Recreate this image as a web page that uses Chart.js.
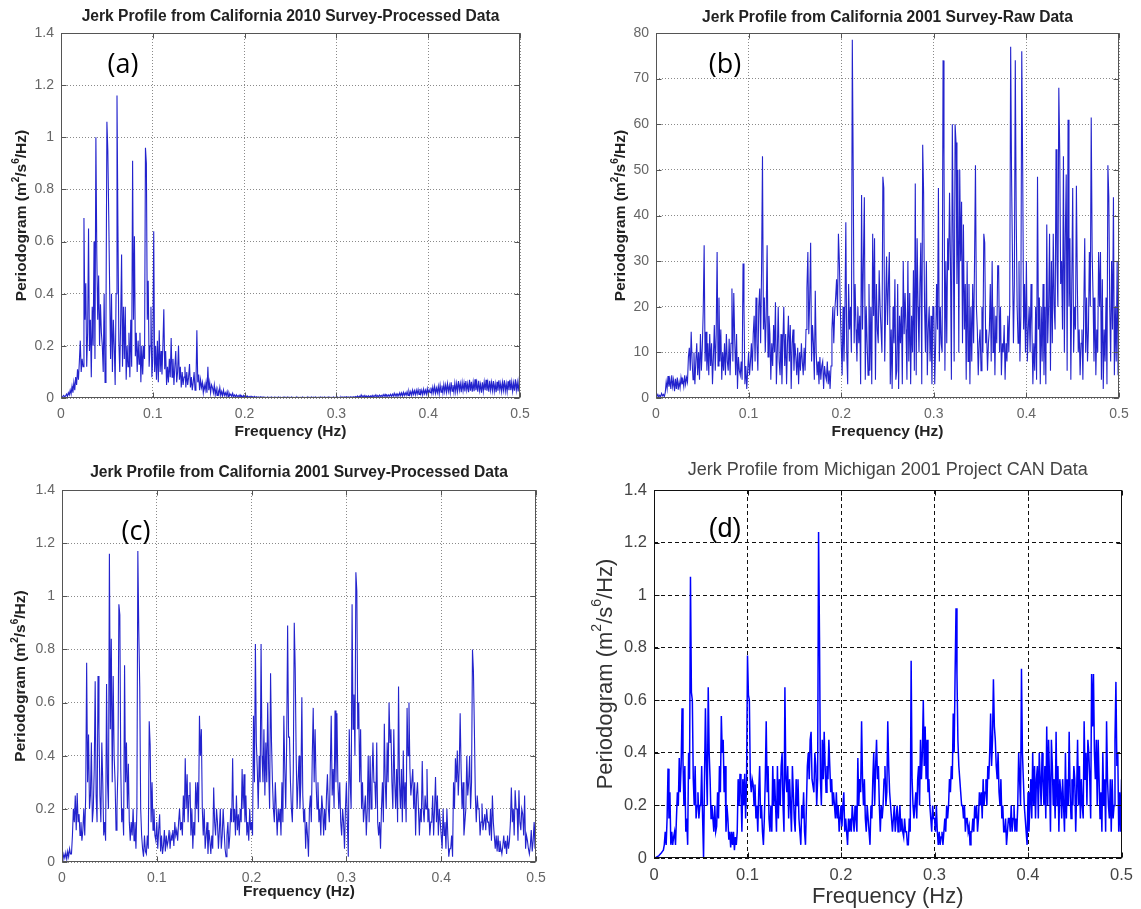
<!DOCTYPE html>
<html>
<head>
<meta charset="utf-8">
<title>Jerk Profile Periodograms</title>
<script src="https://cdn.jsdelivr.net/npm/chart.js@4.4.1/dist/chart.umd.min.js"></script>
<style>
  html, body { margin: 0; padding: 0; background: #fff; }
  body { width: 1141px; height: 909px; position: relative; overflow: hidden; }
  canvas { position: absolute; }
</style>
</head>
<body>
<canvas id="chartA" width="545" height="450" style="left:0;top:0"></canvas>
<canvas id="chartB" width="551" height="450" style="left:590px;top:0"></canvas>
<canvas id="chartC" width="560" height="454" style="left:0;top:455px"></canvas>
<canvas id="chartD" width="551" height="454" style="left:590px;top:455px"></canvas>
<script>
// Periodogram bins are spaced 0.001 Hz apart, from 0 to 0.5 Hz (one row = 0.01 Hz)
const FREQ_STEP = 0.001;

// California 2010 survey, processed (m^2/s^6/Hz)
const caProcessed2010 = [
  0, 0.003, 0.006, 0.01, 0.004, 0.008, 0.015, 0.006, 0.02, 0.012,
  0.03, 0.015, 0.045, 0.02, 0.06, 0.03, 0.08, 0.05, 0.11, 0.07,
  0.14, 0.22, 0.1, 0.15, 0.12, 0.69, 0.3, 0.44, 0.12, 0.25,
  0.65, 0.18, 0.3, 0.08, 0.35, 0.2, 0.6, 0.15, 1.0, 0.55,
  0.3, 0.47, 0.2, 0.36, 0.25, 0.2, 0.1, 0.4, 0.06, 0.3,
  1.06, 0.95, 0.7, 0.42, 0.15, 0.4, 0.1, 0.3, 0.2, 0.05,
  0.4, 1.16, 0.66, 0.22, 0.1, 0.3, 0.55, 0.12, 0.35, 0.15,
  0.35, 0.07, 0.2, 0.12, 0.25, 0.08, 0.3, 0.12, 0.91, 0.3,
  0.62, 0.16, 0.25, 0.1, 0.22, 0.13, 0.25, 0.06, 0.2, 0.09,
  0.2, 0.15, 0.96, 0.9, 0.3, 0.45, 0.12, 0.2, 0.35, 0.08,
  0.15, 0.64, 0.1, 0.2, 0.07, 0.22, 0.06, 0.26, 0.1, 0.18,
  0.09, 0.2, 0.34, 0.11, 0.18, 0.05, 0.12, 0.06, 0.15, 0.08,
  0.23, 0.08, 0.15, 0.05, 0.12, 0.18, 0.06, 0.1, 0.2, 0.07,
  0.12, 0.04, 0.1, 0.05, 0.08, 0.12, 0.04, 0.1, 0.05, 0.08,
  0.13, 0.04, 0.08, 0.03, 0.06, 0.1, 0.03, 0.05, 0.26, 0.06,
  0.09, 0.03, 0.07, 0.04, 0.06, 0.02, 0.05, 0.03, 0.06, 0.02,
  0.12, 0.03, 0.06, 0.02, 0.05, 0.04, 0.02, 0.05, 0.012, 0.035,
  0.01, 0.03, 0.015, 0.04, 0.01, 0.025, 0.008, 0.03, 0.01, 0.02,
  0.008, 0.025, 0.006, 0.02, 0.01, 0.015, 0.005, 0.018, 0.006, 0.012,
  0.004, 0.012, 0.005, 0.01, 0.004, 0.012, 0.003, 0.008, 0.004, 0.01,
  0.003, 0.012, 0.002, 0.008, 0.003, 0.006, 0.002, 0.007, 0.002, 0.005,
  0.002, 0.006, 0.001, 0.005, 0.002, 0.004, 0.001, 0.005, 0.002, 0.004,
  0.001, 0.004, 0.002, 0.003, 0.001, 0.004, 0.002, 0.003, 0.001, 0.004,
  0.002, 0.003, 0.001, 0.004, 0.001, 0.003, 0.002, 0.004, 0.001, 0.003,
  0.001, 0.003, 0.002, 0.004, 0.001, 0.003, 0.001, 0.004, 0.002, 0.003,
  0.001, 0.004, 0.002, 0.003, 0.001, 0.003, 0.002, 0.004, 0.001, 0.003,
  0.002, 0.003, 0.001, 0.004, 0.002, 0.003, 0.001, 0.003, 0.002, 0.004,
  0.001, 0.003, 0.002, 0.004, 0.001, 0.003, 0.001, 0.004, 0.002, 0.003,
  0.001, 0.003, 0.002, 0.004, 0.001, 0.003, 0.001, 0.004, 0.002, 0.003,
  0.001, 0.004, 0.002, 0.003, 0.001, 0.003, 0.002, 0.004, 0.001, 0.003,
  0.002, 0.004, 0.001, 0.003, 0.002, 0.005, 0.001, 0.004, 0.002, 0.004,
  0.002, 0.005, 0.002, 0.004, 0.001, 0.005, 0.002, 0.004, 0.002, 0.005,
  0.002, 0.006, 0.003, 0.008, 0.002, 0.007, 0.003, 0.012, 0.004, 0.009,
  0.004, 0.01, 0.003, 0.008, 0.004, 0.009, 0.003, 0.008, 0.004, 0.01,
  0.004, 0.01, 0.005, 0.012, 0.004, 0.01, 0.005, 0.011, 0.006, 0.01,
  0.005, 0.013, 0.006, 0.014, 0.005, 0.012, 0.006, 0.012, 0.007, 0.014,
  0.006, 0.015, 0.007, 0.018, 0.008, 0.016, 0.007, 0.016, 0.008, 0.02,
  0.009, 0.02, 0.008, 0.022, 0.01, 0.02, 0.011, 0.024, 0.01, 0.026,
  0.012, 0.025, 0.01, 0.03, 0.014, 0.028, 0.012, 0.03, 0.015, 0.032,
  0.014, 0.035, 0.015, 0.03, 0.012, 0.034, 0.016, 0.03, 0.015, 0.036,
  0.015, 0.032, 0.02, 0.04, 0.018, 0.042, 0.02, 0.045, 0.018, 0.038,
  0.02, 0.045, 0.016, 0.05, 0.022, 0.048, 0.02, 0.052, 0.024, 0.05,
  0.022, 0.055, 0.025, 0.048, 0.02, 0.06, 0.026, 0.05, 0.022, 0.058,
  0.024, 0.056, 0.025, 0.065, 0.03, 0.055, 0.022, 0.06, 0.028, 0.058,
  0.025, 0.065, 0.03, 0.055, 0.022, 0.07, 0.028, 0.062, 0.024, 0.06,
  0.026, 0.072, 0.03, 0.058, 0.024, 0.066, 0.028, 0.052, 0.02, 0.06,
  0.026, 0.062, 0.03, 0.07, 0.028, 0.058, 0.024, 0.066, 0.03, 0.06,
  0.028, 0.065, 0.026, 0.055, 0.022, 0.062, 0.028, 0.068, 0.03, 0.056,
  0.025, 0.06, 0.03, 0.068, 0.026, 0.055, 0.024, 0.064, 0.03, 0.07,
  0.03, 0.062, 0.026, 0.058, 0.028, 0.072, 0.03, 0.06, 0.025, 0.066,
  0.04
];

// California 2001 survey, raw
const caRaw2001 = [
  0, 0.4, 0.8, 0.2, 0.6, 0.3, 1, 0.5, 0.8, 0.3,
  1.2, 3.5, 2, 4.8, 2.5, 4, 2, 5, 2.5, 4,
  1.5, 4.2, 2, 4.5, 1.8, 3.5, 2.2, 4.5, 3, 4,
  2.5, 5, 3, 4.5, 3.5, 9, 11, 6, 14.5, 8,
  4, 10, 3, 8, 12, 5, 10, 4, 14, 6,
  11, 19, 33.5, 8, 14.5, 6, 12, 5, 14, 7,
  12, 3, 9, 16, 6, 14, 32, 7, 22, 8,
  15, 4, 10, 6, 12, 5, 14, 8, 6, 13,
  5, 12, 24, 8, 23, 13, 5, 14, 2, 9,
  6, 5, 8, 4, 29.5, 20, 3, 7, 2, 6,
  10, 5, 8, 12, 6, 14, 18, 8, 22, 12,
  6, 20, 24, 12, 28, 53, 15, 22, 10, 18,
  33.5, 9, 18, 14, 4, 12, 7, 16, 10, 21,
  3, 10, 20, 8, 5, 14, 3, 12, 20, 7,
  14, 3, 12, 18, 8, 16, 2, 12, 15, 6,
  12, 9, 5, 11, 3, 10, 6, 12, 8, 5,
  11, 6, 15, 24, 32, 14, 22, 34, 8, 16,
  12, 4, 23.5, 10, 5, 8, 3, 9, 4, 7,
  8, 2, 7, 5, 4, 8, 3, 6, 2, 7,
  15, 20, 12, 19, 22, 26, 18, 36, 30, 20,
  12, 5, 20, 8, 18, 38.5, 10, 3, 25, 15,
  20, 10, 78.5, 49, 12, 25, 15, 8, 20, 12,
  18, 3, 44.5, 15, 30, 44, 4, 20, 12, 5,
  25, 6, 20, 3, 36, 18, 35, 4, 25, 15,
  12, 28, 20, 15, 10, 48.5, 46, 8, 20, 31,
  16, 25, 32, 3, 15, 2, 20, 12, 26, 4,
  6, 25, 2, 18, 12, 20, 3, 30, 14, 23,
  15, 4, 30, 8, 23, 3, 18, 10, 28, 6,
  47, 5, 35, 20, 10, 25, 34, 3, 55.5, 45,
  20, 10, 30, 5, 15, 20, 8, 18, 3, 20,
  20, 3, 12, 25, 15, 46, 8, 20, 12, 10,
  74, 53, 6, 30, 12, 35, 28, 45, 30, 4,
  60, 35, 8, 60, 56, 25, 50, 10, 50, 30,
  43, 12, 38, 15, 25, 4, 30, 8, 25, 3,
  20, 8, 25, 12, 30, 51, 20, 15, 5, 12,
  15, 6, 20, 10, 36, 34, 12, 15, 6, 12,
  15, 25, 8, 30, 10, 20, 5, 18, 12, 29,
  29, 10, 20, 5, 12, 10, 16, 4, 12, 8,
  18, 10, 20, 77, 48, 30, 12, 25, 74, 40,
  20, 12, 30, 8, 18, 76, 50, 15, 25, 10,
  30, 8, 15, 20, 10, 25, 15, 3, 12, 6,
  20, 4, 48.5, 15, 22, 3, 20, 8, 25, 5,
  20, 3, 38, 12, 20, 36, 6, 30, 12, 36,
  20, 15, 54.5, 30, 20, 68, 54, 25, 30, 15,
  53, 10, 35, 49, 6, 61, 20, 35, 4, 25,
  46, 10, 20, 15, 46.5, 25, 10, 15, 5, 12,
  15, 4, 20, 35, 10, 22, 8, 15, 32, 20,
  61.5, 32, 22, 8, 22, 5, 15, 10, 32, 20,
  32, 4, 26, 2, 15, 8, 22, 3, 51, 44,
  20, 8, 30, 15, 44, 5, 20, 8, 30, 5,
  20
];

// California 2001 survey, processed
const caProcessed2001 = [
  0, 0.01, 0.03, 0.015, 0.035, 0.01, 0.04, 0.02, 0.05, 0.03,
  0.03, 0.1, 0.2, 0.15, 0.25, 0.12, 0.26, 0.15, 0.18, 0.1,
  0.15, 0.08, 0.12, 0.2, 0.1, 0.25, 0.75, 0.3, 0.48, 0.2,
  0.25, 0.45, 0.15, 0.2, 0.35, 0.68, 0.25, 0.15, 0.7, 0.5,
  0.25, 0.15, 0.45, 0.3, 0.1, 0.15, 0.08, 0.67, 0.3, 0.2,
  1.16, 0.5, 0.84, 0.3, 0.7, 0.4, 0.3, 0.12, 0.2, 0.35,
  0.97, 0.93, 0.35, 0.15, 0.2, 0.1, 0.74, 0.3, 0.45, 0.2,
  0.37, 0.15, 0.08, 0.15, 0.1, 0.2, 0.08, 0.15, 0.05, 0.2,
  1.17, 0.87, 0.66, 0.2, 0.1, 0.05, 0.02, 0.1, 0.04, 0.03,
  0.1, 0.05, 0.53, 0.44, 0.15, 0.3, 0.12, 0.2, 0.1, 0.08,
  0.15, 0.05, 0.12, 0.18, 0.04, 0.1, 0.03, 0.06, 0.12, 0.04,
  0.1, 0.06, 0.08, 0.12, 0.05, 0.1, 0.08, 0.12, 0.06, 0.15,
  0.1, 0.12, 0.08, 0.15, 0.2, 0.12, 0.15, 0.1, 0.25, 0.15,
  0.39, 0.2, 0.33, 0.15, 0.25, 0.3, 0.1, 0.2, 0.05, 0.15,
  0.1, 0.3, 0.2, 0.3, 0.15, 0.55, 0.4, 0.5, 0.2, 0.1,
  0.2, 0.05, 0.1, 0.15, 0.03, 0.12, 0.08, 0.03, 0.1, 0.05,
  0.28, 0.15, 0.1, 0.2, 0.15, 0.05, 0.12, 0.2, 0.05, 0.1,
  0.2, 0.12, 0.05, 0.02, 0.1, 0.15, 0.05, 0.1, 0.2, 0.15,
  0.39, 0.15, 0.2, 0.1, 0.25, 0.12, 0.18, 0.1, 0.2, 0.15,
  0.35, 0.2, 0.33, 0.15, 0.25, 0.1, 0.15, 0.08, 0.2, 0.12,
  0.15, 0.1, 0.55, 0.3, 0.82, 0.45, 0.35, 0.2, 0.4, 0.3,
  0.82, 0.4, 0.3, 0.5, 0.25, 0.45, 0.3, 0.6, 0.35, 0.2,
  0.71, 0.45, 0.3, 0.2, 0.15, 0.3, 0.2, 0.1, 0.2, 0.15,
  0.2, 0.1, 0.3, 0.15, 0.55, 0.35, 0.2, 0.45, 0.89, 0.47,
  0.47, 0.3, 0.2, 0.15, 0.35, 0.9, 0.73, 0.4, 0.2, 0.3,
  0.4, 0.2, 0.3, 0.62, 0.25, 0.15, 0.2, 0.05, 0.15, 0.1,
  0.02, 0.2, 0.25, 0.15, 0.4, 0.58, 0.3, 0.5, 0.3, 0.2,
  0.3, 0.15, 0.2, 0.1, 0.25, 0.2, 0.1, 0.2, 0.12, 0.25,
  0.33, 0.2, 0.15, 0.35, 0.55, 0.25, 0.35, 0.2, 0.57, 0.3,
  0.56, 0.3, 0.2, 0.3, 0.15, 0.1, 0.2, 0.15, 0.05, 0.2,
  0.3, 0.15, 0.02, 0.5, 0.3, 0.2, 0.97, 0.5, 0.63, 0.4,
  1.09, 1.02, 0.5, 0.6, 0.3, 0.5, 0.2, 0.3, 0.15, 0.2,
  0.25, 0.1, 0.2, 0.4, 0.15, 0.4, 0.2, 0.3, 0.45, 0.3,
  0.3, 0.2, 0.45, 0.15, 0.1, 0.15, 0.05, 0.2, 0.3, 0.15,
  0.52, 0.3, 0.2, 0.45, 0.3, 0.6, 0.45, 0.5, 0.3, 0.2,
  0.5, 0.3, 0.2, 0.35, 0.15, 0.66, 0.3, 0.2, 0.35, 0.15,
  0.42, 0.2, 0.3, 0.15, 0.58, 0.4, 0.6, 0.35, 0.25, 0.3,
  0.35, 0.2, 0.3, 0.1, 0.25, 0.3, 0.2, 0.1, 0.2, 0.15,
  0.38, 0.2, 0.15, 0.25, 0.2, 0.35, 0.15, 0.2, 0.1, 0.15,
  0.15, 0.25, 0.1, 0.2, 0.32, 0.15, 0.25, 0.1, 0.2, 0.15,
  0.1, 0.05, 0.2, 0.1, 0.15, 0.05, 0.2, 0.1, 0.02, 0.05,
  0.05, 0.1, 0.02, 0.3, 0.2, 0.39, 0.3, 0.42, 0.25, 0.35,
  0.56, 0.35, 0.2, 0.3, 0.1, 0.15, 0.2, 0.4, 0.25, 0.3,
  0.4, 0.2, 0.3, 0.8, 0.72, 0.5, 0.25, 0.15, 0.25, 0.2,
  0.2, 0.1, 0.15, 0.22, 0.12, 0.15, 0.18, 0.12, 0.2, 0.15,
  0.15, 0.1, 0.2, 0.08, 0.25, 0.15, 0.1, 0.05, 0.1, 0.04,
  0.1, 0.04, 0.08, 0.05, 0.03, 0.06, 0.1, 0.05, 0.08, 0.03,
  0.1, 0.05, 0.08, 0.15, 0.28, 0.15, 0.2, 0.1, 0.27, 0.2,
  0.2, 0.08, 0.27, 0.15, 0.12, 0.2, 0.18, 0.1, 0.25, 0.05,
  0.1, 0.08, 0.05, 0.03, 0.06, 0.12, 0.04, 0.08, 0.15, 0.05,
  0.26
];

// Michigan 2001 Project CAN
const miCan2001 = [
  0, 0.001, 0.002, 0.004, 0.006, 0.008, 0.012, 0.016, 0.02, 0.025,
  0.03, 0.05, 0.1, 0.05, 0.15, 0.34, 0.15, 0.25, 0.05, 0.1,
  0.05, 0.08, 0.1, 0.05, 0.15, 0.25, 0.2, 0.38, 0.25, 0.35,
  0.57, 0.37, 0.2, 0.35, 0.1, 0.15, 0.05, 0.4, 0.3, 1.07,
  0.63, 0.6, 0.3, 0.2, 0.35, 0.15, 0.2, 0.25, 0.15, 0.2,
  0.2, 0.35, 0.15, 0.0, 0.3, 0.57, 0.35, 0.2, 0.65, 0.4,
  0.3, 0.15, 0.2, 0.15, 0.1, 0.2, 0.1, 0.12, 0.25, 0.15,
  0.35, 0.25, 0.54, 0.4, 0.45, 0.25, 0.35, 0.1, 0.2, 0.15,
  0.07, 0.1, 0.04, 0.1, 0.05, 0.1, 0.03, 0.08, 0.05, 0.1,
  0.3, 0.2, 0.32, 0.25, 0.1, 0.3, 0.2, 0.32, 0.15, 0.3,
  0.77, 0.62, 0.6, 0.3, 0.25, 0.3, 0.28, 0.2, 0.28, 0.15,
  0.2, 0.1, 0.25, 0.35, 0.15, 0.2, 0.1, 0.05, 0.15, 0.3,
  0.52, 0.25, 0.35, 0.15, 0.1, 0.2, 0.1, 0.35, 0.2, 0.3,
  0.2, 0.1, 0.35, 0.15, 0.3, 0.2, 0.35, 0.4, 0.2, 0.1,
  0.65, 0.3, 0.25, 0.35, 0.15, 0.3, 0.2, 0.1, 0.35, 0.25,
  0.15, 0.1, 0.3, 0.2, 0.3, 0.15, 0.1, 0.05, 0.2, 0.15,
  0.25, 0.1, 0.05, 0.2, 0.35, 0.4, 0.3, 0.45, 0.48, 0.3,
  0.3, 0.25, 0.4, 0.35, 0.2, 0.3, 1.24, 0.84, 0.3, 0.2,
  0.45, 0.3, 0.48, 0.35, 0.25, 0.35, 0.3, 0.45, 0.35, 0.25,
  0.3, 0.2, 0.25, 0.2, 0.15, 0.25, 0.15, 0.2, 0.1, 0.15,
  0.2, 0.12, 0.2, 0.25, 0.1, 0.15, 0.1, 0.05, 0.15, 0.1,
  0.15, 0.1, 0.2, 0.15, 0.1, 0.2, 0.15, 0.1, 0.38, 0.2,
  0.3, 0.25, 0.52, 0.3, 0.2, 0.3, 0.15, 0.1, 0.2, 0.15,
  0.1, 0.05, 0.2, 0.15, 0.3, 0.4, 0.2, 0.35, 0.45, 0.3,
  0.35, 0.2, 0.1, 0.2, 0.15, 0.2, 0.3, 0.35, 0.2, 0.25,
  0.52, 0.35, 0.25, 0.2, 0.15, 0.1, 0.15, 0.2, 0.1, 0.15,
  0.2, 0.1, 0.15, 0.2, 0.1, 0.15, 0.1, 0.08, 0.15, 0.1,
  0.1, 0.05, 0.05, 0.15, 0.1, 0.75, 0.3, 0.2, 0.15, 0.2,
  0.25, 0.15, 0.3, 0.35, 0.2, 0.45, 0.3, 0.4, 0.6, 0.35,
  0.5, 0.3, 0.45, 0.25, 0.3, 0.2, 0.15, 0.1, 0.2, 0.15,
  0.15, 0.1, 0.2, 0.1, 0.05, 0.1, 0.05, 0.08, 0.1, 0.05,
  0.1, 0.15, 0.1, 0.2, 0.15, 0.2, 0.3, 0.25, 0.35, 0.3,
  0.55, 0.4, 0.7, 0.95, 0.7, 0.45, 0.35, 0.3, 0.25, 0.2,
  0.2, 0.15, 0.2, 0.1, 0.15, 0.15, 0.1, 0.12, 0.05, 0.1,
  0.1, 0.15, 0.1, 0.2, 0.15, 0.2, 0.1, 0.15, 0.25, 0.2,
  0.25, 0.15, 0.3, 0.2, 0.25, 0.3, 0.2, 0.35, 0.3, 0.4,
  0.55, 0.35, 0.45, 0.68, 0.5, 0.45, 0.35, 0.3, 0.4, 0.25,
  0.2, 0.3, 0.15, 0.2, 0.1, 0.1, 0.15, 0.05, 0.1, 0.15,
  0.15, 0.1, 0.2, 0.1, 0.15, 0.2, 0.1, 0.15, 0.1, 0.2,
  0.4, 0.3, 0.2, 0.72, 0.4, 0.3, 0.2, 0.15, 0.1, 0.05,
  0.25, 0.1, 0.2, 0.3, 0.15, 0.4, 0.2, 0.35, 0.15, 0.3,
  0.35, 0.15, 0.4, 0.3, 0.2, 0.4, 0.3, 0.2, 0.35, 0.15,
  0.5, 0.2, 0.45, 0.3, 0.1, 0.45, 0.35, 0.2, 0.3, 0.15,
  0.48, 0.2, 0.35, 0.1, 0.3, 0.25, 0.15, 0.3, 0.2, 0.1,
  0.4, 0.15, 0.3, 0.2, 0.48, 0.25, 0.15, 0.3, 0.2, 0.35,
  0.3, 0.1, 0.25, 0.45, 0.2, 0.35, 0.15, 0.3, 0.2, 0.15,
  0.52, 0.3, 0.4, 0.2, 0.45, 0.4, 0.3, 0.15, 0.7, 0.5,
  0.7, 0.4, 0.3, 0.45, 0.2, 0.45, 0.3, 0.15, 0.25, 0.1,
  0.4, 0.2, 0.3, 0.1, 0.52, 0.3, 0.2, 0.15, 0.3, 0.1,
  0.3, 0.15, 0.2, 0.45, 0.67, 0.35, 0.4, 0.1, 0.25, 0.1,
  0.3
];

const SANS = '"Liberation Sans", Arial, sans-serif';

// Classic MATLAB look for a-c, the heavier CAN plot for d
const matlabStyle = {
  line: 'rgb(35,35,205)', lineWidth: 1.1,
  grid: '#8a8a8a', gridDash: [1, 2], frame: '#555',
  tickFont: 14, tickColor: '#666',
  titleFont: 'bold 15.6px ' + SANS, titleColor: '#222',
  axisFont: 15.5, axisWeight: 'bold', axisColor: '#222',
  tagFont: '27px "Open Sans", sans-serif'
};
const canStyle = {
  line: '#0000ff', lineWidth: 1.5,
  grid: '#111', gridDash: [4, 3], frame: '#111',
  tickFont: 16.5, tickColor: '#444',
  titleFont: '18px ' + SANS, titleColor: '#444',
  axisFont: 22, axisWeight: 'normal', axisColor: '#333',
  tagFont: '27px ' + SANS
};

const panels = [
  { id: 'chartA', values: caProcessed2010, yMax: 1.4, yStep: 0.2, style: matlabStyle,
    title: 'Jerk Profile from California 2010 Survey-Processed Data', tag: '(a)',
    pad: { top: 33, right: 25 }, yAxisWidth: 61, xAxisHeight: 52,
    titleGap: 16, xTitleGap: 34, yTitleX: 22, tagPos: [123, 65] },
  { id: 'chartB', values: caRaw2001, yMax: 80, yStep: 10, style: matlabStyle,
    title: 'Jerk Profile from California 2001 Survey-Raw Data', tag: '(b)',
    pad: { top: 33, right: 22 }, yAxisWidth: 66, xAxisHeight: 52,
    titleGap: 15, xTitleGap: 34, yTitleX: 31, tagPos: [135, 65] },
  { id: 'chartC', values: caProcessed2001, yMax: 1.4, yStep: 0.2, style: matlabStyle,
    title: 'Jerk Profile from California 2001 Survey-Processed Data', tag: '(c)',
    pad: { top: 35, right: 24 }, yAxisWidth: 62, xAxisHeight: 47,
    titleGap: 17, xTitleGap: 30, yTitleX: 21, tagPos: [136, 77] },
  { id: 'chartD', values: miCan2001, yMax: 1.4, yStep: 0.2, style: canStyle,
    title: 'Jerk Profile from Michigan 2001 Project CAN Data', tag: '(d)',
    pad: { top: 35, right: 15 }, yAxisWidth: 64, xAxisHeight: 51,
    titleGap: 20, xTitleGap: 39, yTitleX: 16, tagPos: [135, 75] }
];

function toPoints(values) {
  return values.map((v, i) => ({ x: +(i * FREQ_STEP).toFixed(3), y: v }));
}

// MATLAB-style tick text: 1 instead of 1.0
function plainNumber(value) {
  return String(+value.toFixed(2));
}

// "Periodogram (m^2/s^6/Hz)" with raised exponents, drawn centred on (0,0)
function drawRichText(ctx, parts, size, weight) {
  const big = weight + ' ' + size + 'px ' + SANS;
  const small = weight + ' ' + Math.round(size * 0.62) + 'px ' + SANS;
  let total = 0;
  for (const p of parts) {
    ctx.font = p.sup ? small : big;
    total += ctx.measureText(p.t).width;
  }
  let x = -total / 2;
  ctx.textAlign = 'left';
  ctx.textBaseline = 'middle';
  for (const p of parts) {
    ctx.font = p.sup ? small : big;
    ctx.fillText(p.t, x, p.sup ? -size * 0.38 : 0);
    x += ctx.measureText(p.t).width;
  }
}

const Y_TITLE = [
  { t: 'Periodogram (m' }, { t: '2', sup: true }, { t: '/s' },
  { t: '6', sup: true }, { t: '/Hz)' }
];

function decorations(p) {
  const s = p.style;
  return {
    id: 'decorations',
    afterDraw(chart) {
      const { ctx, chartArea: a, scales } = chart;
      const x0 = Math.round(a.left) + 0.5, x1 = Math.round(a.right) - 0.5;
      const y0 = Math.round(a.top) + 0.5, y1 = Math.round(a.bottom) - 0.5;
      ctx.save();
      ctx.strokeStyle = s.frame;
      ctx.lineWidth = 1;
      ctx.setLineDash([]);
      ctx.strokeRect(x0, y0, x1 - x0, y1 - y0);

      // inward tick marks on all four sides
      ctx.beginPath();
      for (const t of scales.x.ticks) {
        const px = Math.round(scales.x.getPixelForValue(t.value)) + 0.5;
        ctx.moveTo(px, y1); ctx.lineTo(px, y1 - 5);
        ctx.moveTo(px, y0); ctx.lineTo(px, y0 + 5);
      }
      for (const t of scales.y.ticks) {
        const py = Math.round(scales.y.getPixelForValue(t.value)) + 0.5;
        ctx.moveTo(x0, py); ctx.lineTo(x0 + 5, py);
        ctx.moveTo(x1, py); ctx.lineTo(x1 - 5, py);
      }
      ctx.stroke();

      const cx = (a.left + a.right) / 2;
      ctx.fillStyle = s.titleColor;
      ctx.font = s.titleFont;
      ctx.textAlign = 'center';
      ctx.textBaseline = 'middle';
      ctx.fillText(p.title, cx, a.top - p.titleGap);

      ctx.fillStyle = s.axisColor;
      ctx.font = s.axisWeight + ' ' + s.axisFont + 'px ' + SANS;
      ctx.fillText('Frequency (Hz)', cx, a.bottom + p.xTitleGap);

      ctx.save();
      ctx.translate(p.yTitleX, (a.top + a.bottom) / 2);
      ctx.rotate(-Math.PI / 2);
      drawRichText(ctx, Y_TITLE, s.axisFont, s.axisWeight);
      ctx.restore();

      ctx.fillStyle = '#000';
      ctx.font = s.tagFont;
      ctx.textAlign = 'center';
      ctx.textBaseline = 'middle';
      ctx.fillText(p.tag, p.tagPos[0], p.tagPos[1]);
      ctx.restore();
    }
  };
}

for (const p of panels) {
  const s = p.style;
  new Chart(document.getElementById(p.id), {
    type: 'line',
    data: {
      datasets: [{
        data: toPoints(p.values),
        borderColor: s.line,
        borderWidth: s.lineWidth,
        pointRadius: 0,
        tension: 0,
        fill: false
      }]
    },
    options: {
      responsive: false,
      animation: false,
      events: [],
      layout: { padding: { top: p.pad.top, right: p.pad.right, left: 0, bottom: 0 } },
      plugins: { legend: { display: false }, tooltip: { enabled: false } },
      scales: {
        x: {
          type: 'linear', min: 0, max: 0.5,
          ticks: { stepSize: 0.1, padding: 8, color: s.tickColor, autoSkip: false,
                   maxRotation: 0, callback: plainNumber,
                   font: { family: SANS, size: s.tickFont } },
          grid: { color: s.grid, lineWidth: 1, drawTicks: false },
          border: { display: false, dash: s.gridDash },
          afterFit(scale) { scale.height = p.xAxisHeight; }
        },
        y: {
          type: 'linear', min: 0, max: p.yMax,
          ticks: { stepSize: p.yStep, padding: 7, color: s.tickColor,
                   callback: plainNumber,
                   font: { family: SANS, size: s.tickFont } },
          grid: { color: s.grid, lineWidth: 1, drawTicks: false },
          border: { display: false, dash: s.gridDash },
          afterFit(scale) { scale.width = p.yAxisWidth; }
        }
      }
    },
    plugins: [decorations(p)]
  });
}
</script>
</body>
</html>
